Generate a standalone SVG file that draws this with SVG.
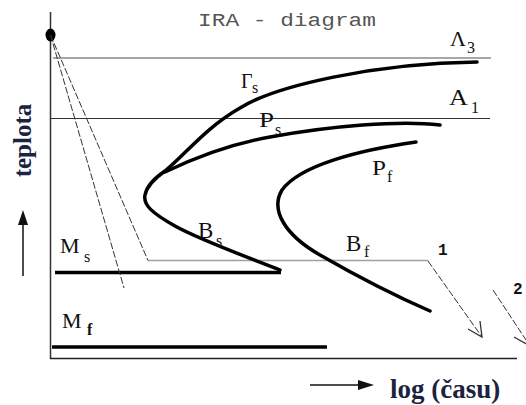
<svg xmlns="http://www.w3.org/2000/svg" width="526" height="405" viewBox="0 0 526 405">
<style>
.curve{fill:none;stroke:#000;stroke-width:3.5;stroke-linecap:round;stroke-linejoin:round}
.thick{stroke:#000;stroke-width:3.5}
.dash{fill:none;stroke:#333;stroke-width:1;stroke-dasharray:7 2}
.lbl{font-family:"Liberation Serif","Times New Roman",serif;fill:#111}
.sub{font-family:"Liberation Serif","Times New Roman",serif;fill:#111;font-size:16px}
.num{font-family:"Liberation Mono","Courier New",monospace;font-weight:bold;font-size:16px;fill:#111}
.axis{font-family:"Liberation Serif","Times New Roman",serif;font-weight:bold;fill:#1c2340}
</style>
<rect width="526" height="405" fill="#fff"/>
<g id="axes">
<line x1="50.5" y1="12" x2="50.5" y2="359" stroke="#333" stroke-width="1.5"/>
<line x1="50" y1="358.5" x2="517" y2="358.5" stroke="#222" stroke-width="1.5"/>
<ellipse cx="50.5" cy="35" rx="5" ry="6.5" fill="#000"/>
</g>
<g id="levels">
<line x1="53" y1="58" x2="491" y2="58" stroke="#8a8a8a" stroke-width="1.5"/>
<line x1="50" y1="118.5" x2="490" y2="118.5" stroke="#333" stroke-width="1.2"/>
<line x1="55" y1="272.5" x2="281" y2="272.5" class="thick"/>
<line x1="52" y1="347" x2="327" y2="347" class="thick"/>
<line x1="148" y1="260.5" x2="428" y2="260.5" stroke="#a0a0a0" stroke-width="1.5"/>
</g>
<g id="curves">
<path class="curve" d="M280,270 C255,260 200,240 175,226 C152,213 143,205 145,195 C147,185 155,178 165,171 C185,155 205,128 240,108 C275,86 375,63 477,62"/>
<path class="curve" d="M165,172 C190,160 225,145 270,137 C330,126 400,120 440,125"/>
<path class="curve" d="M416,142 C360,150 300,165 282,190 C270,210 285,235 320,255 C360,278 400,298 430,311"/>
</g>
<g id="connectors">
<line class="dash" x1="50.5" y1="35" x2="124" y2="288"/>
<line class="dash" x1="50.5" y1="35" x2="148" y2="260.5"/>
<line class="dash" x1="428" y1="261" x2="482" y2="337"/>
<polyline points="468,329 482,337 480,321" fill="none" stroke="#333" stroke-width="1.3"/>
<line class="dash" x1="493" y1="290" x2="530" y2="346"/>
<polyline points="514,337 528,345" fill="none" stroke="#333" stroke-width="1.3"/>
<line x1="23" y1="276" x2="23" y2="223" stroke="#111" stroke-width="1.5"/>
<polygon points="18,225 23,210 28,225" fill="#111"/>
<line x1="310" y1="385" x2="360" y2="385" stroke="#111" stroke-width="1.5"/>
<polygon points="358,380 374,385 358,390" fill="#111"/>
</g>
<g id="labels">
<text x="198" y="26" font-family="Liberation Mono,Courier New,monospace" font-size="19" fill="#555" textLength="178" lengthAdjust="spacingAndGlyphs">IRA - diagram</text>
<text class="lbl" x="450" y="46" font-size="22">Λ</text><text class="sub" x="467" y="53" font-size="15">3</text>
<text class="lbl" x="449" y="105" font-size="23" textLength="19" lengthAdjust="spacingAndGlyphs">A</text><text class="sub" x="471" y="113">1</text>
<text class="lbl" x="241" y="88" font-size="20">Γ</text><text class="sub" x="252" y="93">s</text>
<text class="lbl" x="259" y="127" font-size="22" textLength="15" lengthAdjust="spacingAndGlyphs">P</text><text class="sub" x="275" y="135">s</text>
<text class="lbl" x="372" y="175" font-size="22" textLength="14" lengthAdjust="spacingAndGlyphs">P</text><text class="sub" x="387" y="182">f</text>
<text class="lbl" x="198" y="238" font-size="23">B</text><text class="sub" x="216" y="246">s</text>
<text class="lbl" x="346" y="251" font-size="23">B</text><text class="sub" x="364" y="257">f</text>
<text class="lbl" x="60" y="253" font-size="22">M</text><text class="sub" x="84" y="262" font-size="17">s</text>
<text class="lbl" x="62" y="328" font-size="22">M</text><text class="sub" x="87" y="335" font-weight="bold">f</text>
<text class="num" x="438" y="255">1</text>
<text class="num" x="513" y="294">2</text>
<text class="axis" x="0" y="0" font-size="25" text-anchor="middle" transform="translate(31,140.5) rotate(-90)">teplota</text>
<text class="axis" x="390" y="398" font-size="27">log (času)</text>
</g>
</svg>
